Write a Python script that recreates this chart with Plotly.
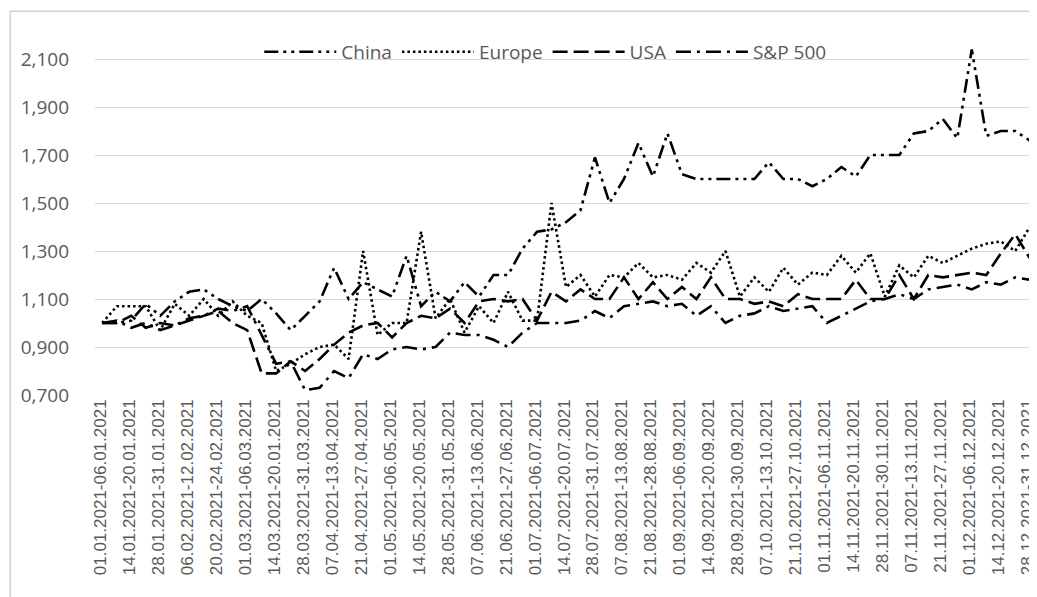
import plotly.graph_objects as go

# weekly periods (source labels kept as they are, typos included)
periods = [
    "01.01.2021-06.01.2021", "07.01.2021-13.01.2021", "14.01.2021-20.01.2021", "21.01.2021-27.01.2021", "28.01.2021-31.01.2021",
    "01.02.2021-05.02.2021", "06.02.2021-12.02.2021", "13.02.2021-19.02.2021", "20.02.2021-24.02.2021", "25.02.2021-28.02.2021",
    "01.03.2021-06.03.2021", "07.03.2021-13.03.2021", "14.03.2021-20.01.2021", "21.03.2021-27.03.2021", "28.03.2021-31.03.2021",
    "01.04.2021-06.04.2021", "07.04.2021-13.04.2021", "14.04.2021-20.04.2021", "21.04.2021-27.04.2021", "28.04.2021-30.04.2021",
    "01.05.2021-06.05.2021", "07.05.2021-13.05.2021", "14.05.2021-20.05.2021", "21.05.2021-27.05.2021", "28.05.2021-31.05.2021",
    "01.06.2021-06.06.2021", "07.06.2021-13.06.2021", "14.06.2021-20.06.2021", "21.06.2021-27.06.2021", "28.06.2021-30.06.2021",
    "01.07.2021-06.07.2021", "07.07.2021-13.07.2021", "14.07.2021-20.07.2021", "21.07.2021-27.07.2021", "28.07.2021-31.07.2021",
    "01.08.2021-06.08.2021", "07.08.2021-13.08.2021", "14.08.2021-20.08.2021", "21.08.2021-28.08.2021", "29.08.2021-31.08.2021",
    "01.09.2021-06.09.2021", "07.09.2021-13.09.2021", "14.09.2021-20.09.2021", "21.09.2021-27.09.2021", "28.09.2021-30.09.2021",
    "01.10.2021-06.10.2021", "07.10.2021-13.10.2021", "14.10.2021-20.10.2021", "21.10.2021-27.10.2021", "28.10.2021-31.10.2021",
    "01.11.2021-06.11.2021", "07.11.2021-13.11.2021", "14.11.2021-20.11.2021", "21.11.2021-27.11.2021", "28.11.2021-30.11.2021",
    "01.11.2021-06.11.2021", "07.11.2021-13.11.2021", "14.11.2021-20.11.2021", "21.11.2021-27.11.2021", "28.11.2021-30.11.2021",
    "01.12.2021-06.12.2021", "07.12.2021-13.12.2021", "14.12.2021-20.12.2021", "21.12.2021-27.12.2021", "28.12.2021-31.12.2021",
]

china = [1.00, 1.00, 1.01, 1.08, 1.03, 1.09, 1.13, 1.14, 1.10, 1.07,
         1.05, 1.10, 1.04, 0.97, 1.03, 1.09, 1.23, 1.10, 1.17, 1.14,
         1.11, 1.28, 1.07, 1.13, 1.09, 1.17, 1.11, 1.20, 1.20, 1.31,
         1.38, 1.39, 1.42, 1.47, 1.69, 1.50, 1.60, 1.75, 1.61, 1.79,
         1.62, 1.60, 1.60, 1.60, 1.60, 1.60, 1.67, 1.60, 1.60, 1.57,
         1.60, 1.65, 1.61, 1.70, 1.70, 1.70, 1.79, 1.80, 1.85, 1.77,
         2.14, 1.78, 1.80, 1.80, 1.76]
europe = [1.00, 1.07, 1.07, 1.07, 0.97, 1.08, 1.03, 1.10, 1.03, 1.09,
          1.03, 1.00, 0.80, 0.83, 0.87, 0.90, 0.91, 0.85, 1.30, 0.95,
          1.00, 1.00, 1.38, 1.02, 1.10, 0.96, 1.07, 1.00, 1.13, 1.01,
          1.01, 1.50, 1.15, 1.20, 1.11, 1.20, 1.19, 1.25, 1.19, 1.20,
          1.18, 1.25, 1.21, 1.30, 1.11, 1.19, 1.13, 1.23, 1.16, 1.21,
          1.20, 1.28, 1.21, 1.29, 1.11, 1.24, 1.19, 1.28, 1.25, 1.28,
          1.31, 1.33, 1.34, 1.30, 1.40]
usa = [1.00, 1.00, 1.03, 0.98, 1.00, 0.99, 1.01, 1.03, 1.05, 1.00,
       0.97, 0.79, 0.79, 0.84, 0.80, 0.85, 0.91, 0.96, 0.99, 1.00,
       0.94, 1.00, 1.03, 1.02, 1.06, 1.00, 1.09, 1.10, 1.09, 1.10,
       1.01, 1.13, 1.09, 1.14, 1.10, 1.10, 1.19, 1.10, 1.17, 1.10,
       1.15, 1.10, 1.19, 1.10, 1.10, 1.08, 1.09, 1.07, 1.12, 1.10,
       1.10, 1.10, 1.18, 1.10, 1.10, 1.20, 1.10, 1.20, 1.19, 1.20,
       1.21, 1.20, 1.29, 1.37, 1.27]
sp500 = [1.00, 1.01, 0.98, 1.00, 0.97, 0.99, 1.02, 1.03, 1.06, 1.05,
         1.07, 0.95, 0.83, 0.84, 0.72, 0.73, 0.80, 0.77, 0.87, 0.85,
         0.89, 0.90, 0.89, 0.90, 0.96, 0.95, 0.95, 0.93, 0.90, 0.96,
         1.00, 1.00, 1.00, 1.01, 1.05, 1.02, 1.07, 1.08, 1.09, 1.07,
         1.08, 1.03, 1.07, 1.00, 1.03, 1.04, 1.07, 1.05, 1.06, 1.07,
         1.00, 1.03, 1.06, 1.09, 1.10, 1.12, 1.10, 1.14, 1.15, 1.16,
         1.14, 1.17, 1.16, 1.19, 1.18]

y_ticks = [0.7, 0.9, 1.1, 1.3, 1.5, 1.7, 1.9, 2.1]
y_labels = ["0,700", "0,900", "1,100", "1,300", "1,500", "1,700", "1,900", "2,100"]

x = list(range(len(periods)))
grey = "#595959"

series = [
    ("China", china, "14px,5px,3px,5px,3px,5px"),
    ("Europe", europe, "2.5px,3px"),
    ("USA", usa, "15px,6px"),
    ("S&P 500", sp500, "15px,6px,3px,6px"),
]

fig = go.Figure()
for name, vals, dash in series:
    fig.add_trace(go.Scatter(x=x, y=vals, name=name, mode="lines",
                             line=dict(color="black", width=2.6, dash=dash)))

# page body adds an 8px margin, so the figure is 8px smaller than the window
fig.update_layout(
    width=1029, height=589,
    margin=dict(l=87, r=0, t=27, b=202),
    paper_bgcolor="white", plot_bgcolor="white",
    font=dict(family="Open Sans", color=grey),
    legend=dict(orientation="h", x=0.478, xanchor="center", y=0.953, yanchor="middle",
                font=dict(size=19, color=grey), bgcolor="rgba(0,0,0,0)", itemwidth=72),
    shapes=[dict(type="rect", xref="paper", yref="paper", x0=-0.09, x1=1.05, y0=-0.7, y1=1.066,
                 line=dict(color="#d0d0d0", width=1.5), layer="above")],
)
fig.update_xaxes(range=[-0.5, len(periods) - 0.5], tickvals=x[::2], ticktext=periods[::2],
                 tickangle=-90, tickfont=dict(family="Liberation Sans", size=17, color=grey),
                 ticklabeloverflow="allow", ticklabelshift=-2,
                 showgrid=False, zeroline=False, showline=False)
fig.update_yaxes(range=[0.7, 2.2], tickvals=y_ticks, ticktext=y_labels,
                 tickfont=dict(size=19, color=grey), ticklabelstandoff=25,
                 showgrid=True, gridcolor="#d9d9d9", gridwidth=1.3, zeroline=False, showline=False)

fig.write_html("out.html")
